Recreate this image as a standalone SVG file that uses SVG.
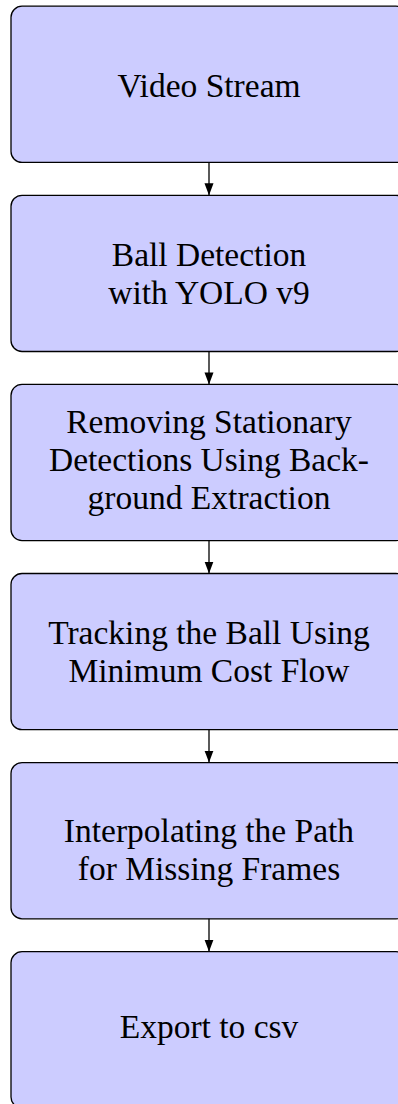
<svg xmlns="http://www.w3.org/2000/svg" width="398" height="1104" viewBox="0 0 398 1104">
<style>
.box{fill:#ccccff;stroke:#000;stroke-width:1.3}
.lbl{font-size:33.5px;fill:#000;text-anchor:middle}
.edge{stroke:#000;stroke-width:1.3;fill:none}
</style>
<defs>
<marker id="ah" markerUnits="userSpaceOnUse" markerWidth="14" markerHeight="10" refX="12" refY="4.5" orient="auto">
<path d="M0,0 L12,4.5 L0,9 Z" fill="#000"/>
</marker>
</defs>
<rect x="0" y="0" width="398" height="1104" fill="#fff"/>
<g id="n1" font-family="'Liberation Serif', 'DejaVu Serif', serif"><rect class="box" x="11" y="6.2" width="396" height="156.2" rx="11"/><text class="lbl" x="209" y="96.5">Video Stream</text></g>
<g id="n2" font-family="'Liberation Serif', 'DejaVu Serif', serif"><rect class="box" x="11" y="195.3" width="396" height="156.2" rx="11"/><text class="lbl" x="209" y="266.3">Ball Detection</text><text class="lbl" x="209" y="304.3">with YOLO v9</text></g>
<g id="n3" font-family="'Liberation Serif', 'DejaVu Serif', serif"><rect class="box" x="11" y="384.4" width="396" height="156.2" rx="11"/><text class="lbl" x="209" y="432.8">Removing Stationary</text><text class="lbl" x="209" y="470.8">Detections Using Back-</text><text class="lbl" x="209" y="508.8">ground Extraction</text></g>
<g id="n4" font-family="'Liberation Serif', 'DejaVu Serif', serif"><rect class="box" x="11" y="573.5" width="396" height="156.2" rx="11"/><text class="lbl" x="209" y="643.6">Tracking the Ball Using</text><text class="lbl" x="209" y="682.1">Minimum Cost Flow</text></g>
<g id="n5" font-family="'Liberation Serif', 'DejaVu Serif', serif"><rect class="box" x="11" y="762.6" width="396" height="156.2" rx="11"/><text class="lbl" x="209" y="842">Interpolating the Path</text><text class="lbl" x="209" y="880">for Missing Frames</text></g>
<g id="n6" font-family="'Liberation Serif', 'DejaVu Serif', serif"><rect class="box" x="11" y="951.7" width="396" height="156.2" rx="11"/><text class="lbl" x="209" y="1037.5">Export to csv</text></g>
<g id="edges">
<line class="edge" x1="209" y1="162.4" x2="209" y2="195.3" marker-end="url(#ah)"/>
<line class="edge" x1="209" y1="351.5" x2="209" y2="384.4" marker-end="url(#ah)"/>
<line class="edge" x1="209" y1="540.6" x2="209" y2="573.5" marker-end="url(#ah)"/>
<line class="edge" x1="209" y1="729.7" x2="209" y2="762.6" marker-end="url(#ah)"/>
<line class="edge" x1="209" y1="918.8" x2="209" y2="951.7" marker-end="url(#ah)"/>
</g>
</svg>
